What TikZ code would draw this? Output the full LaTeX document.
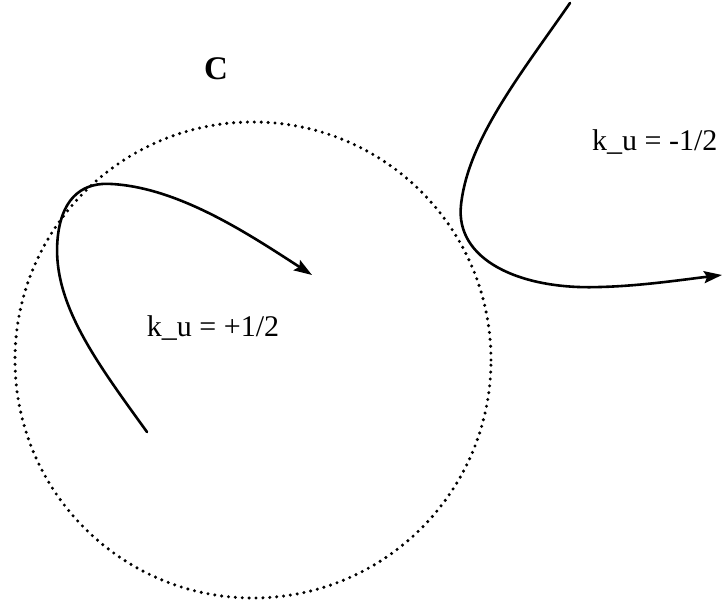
\documentclass[tikz,border=0pt]{standalone}
\usepackage{fontspec}
\setmainfont{Liberation Serif}
\usetikzlibrary{arrows.meta}
\begin{document}
\begin{tikzpicture}[x=1pt,y=-1pt,
  curve/.style={line width=2.6pt,line cap=round,-{Stealth[length=18pt,width=12pt,inset=3pt]}},
  circ/.style={line width=3.4pt,line cap=round,dash pattern=on 0pt off 6.9pt},
  lbl/.style={inner sep=0pt,font=\fontsize{30}{34}\selectfont},
  ttl/.style={inner sep=0pt,font=\fontsize{33}{38}\selectfont\bfseries}]
\useasboundingbox (0,0) rectangle (723,605);
\fill[white] (0,0) rectangle (723,605);
\node[ttl] (C) at (216,69) {C};
\node[lbl,anchor=base] (kp) at (213,336) {k\_u = +1/2};
\node[lbl,anchor=base west] (km) at (592,150) {k\_u = -1/2};
\node[circle,draw,circ,minimum size=476pt,inner sep=0pt] (ring) at (253,360) {};
\coordinate (a0) at (147,432);
\coordinate (a1) at (312,275);
\coordinate (b0) at (570,3);
\coordinate (b1) at (722,275);
\draw[curve] (a0) .. controls (95,360) and (50,300) .. (58,235)
  .. controls (63,195) and (85,182) .. (112,184)
  .. controls (180,188) and (250,235) .. (a1);
\draw[curve] (b0) .. controls (520,75) and (468,140) .. (461,205)
  .. controls (455,260) and (520,290) .. (600,287)
  .. controls (640,286) and (680,280) .. (b1);
\end{tikzpicture}
\end{document}
